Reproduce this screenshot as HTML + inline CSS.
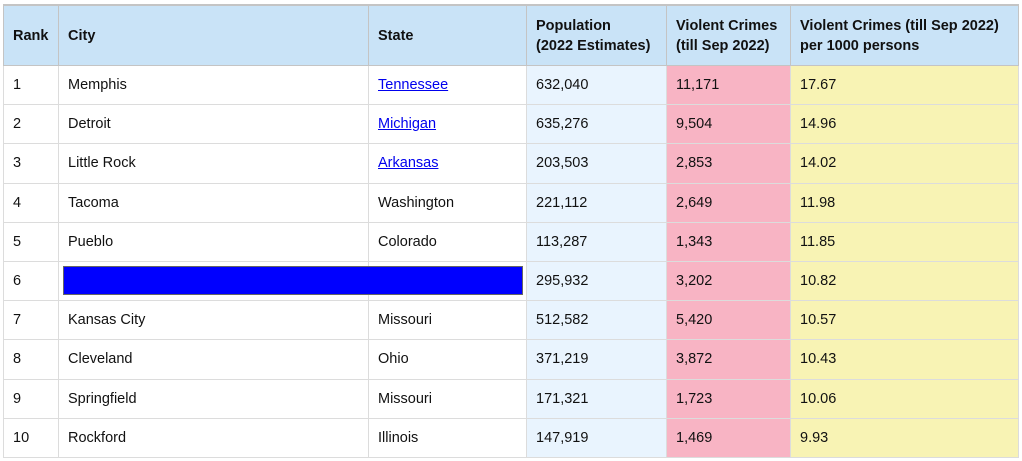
<!DOCTYPE html>
<html><head><style>
body{margin:0;background:#fff;width:1022px;height:461px;overflow:hidden;font-family:"Liberation Sans",Arial,sans-serif;}
table{position:absolute;left:3px;top:4px;border-collapse:collapse;table-layout:fixed;font-size:14.5px;color:#111;}
td,th{border:1px solid #dcdcdc;padding:0 0 0 9px;text-align:left;vertical-align:middle;}
td{height:38.2px;}
th{background:#c9e3f7;font-weight:bold;height:59px;border-color:#c4c4c4;line-height:20px;border-top:2px solid #c4c4c4;}
td.p{background:#e9f4fe}
td.v{background:#f8b4c4}
td.r{background:#f8f3b4}
a{color:#0000ee;text-decoration:underline}
.box{position:absolute;left:63px;top:266px;width:458px;height:27px;background:#0000ff;border:1px solid #666;}
</style></head><body>
<table>
<colgroup><col style="width:55px"><col style="width:310px"><col style="width:158px"><col style="width:140px"><col style="width:124px"><col style="width:228px"></colgroup>
<tr><th>Rank</th><th>City</th><th>State</th><th>Population<br>(2022 Estimates)</th><th>Violent Crimes<br>(till Sep 2022)</th><th>Violent Crimes (till Sep 2022)<br>per 1000 persons</th></tr>
<tr><td>1</td><td>Memphis</td><td><a>Tennessee</a></td><td class="p">632,040</td><td class="v">11,171</td><td class="r">17.67</td></tr>
<tr><td>2</td><td>Detroit</td><td><a>Michigan</a></td><td class="p">635,276</td><td class="v">9,504</td><td class="r">14.96</td></tr>
<tr><td>3</td><td>Little Rock</td><td><a>Arkansas</a></td><td class="p">203,503</td><td class="v">2,853</td><td class="r">14.02</td></tr>
<tr><td>4</td><td>Tacoma</td><td>Washington</td><td class="p">221,112</td><td class="v">2,649</td><td class="r">11.98</td></tr>
<tr><td>5</td><td>Pueblo</td><td>Colorado</td><td class="p">113,287</td><td class="v">1,343</td><td class="r">11.85</td></tr>
<tr><td>6</td><td></td><td></td><td class="p">295,932</td><td class="v">3,202</td><td class="r">10.82</td></tr>
<tr><td>7</td><td>Kansas City</td><td>Missouri</td><td class="p">512,582</td><td class="v">5,420</td><td class="r">10.57</td></tr>
<tr><td>8</td><td>Cleveland</td><td>Ohio</td><td class="p">371,219</td><td class="v">3,872</td><td class="r">10.43</td></tr>
<tr><td>9</td><td>Springfield</td><td>Missouri</td><td class="p">171,321</td><td class="v">1,723</td><td class="r">10.06</td></tr>
<tr><td>10</td><td>Rockford</td><td>Illinois</td><td class="p">147,919</td><td class="v">1,469</td><td class="r">9.93</td></tr>
</table>
<div class="box"></div>
</body></html>
